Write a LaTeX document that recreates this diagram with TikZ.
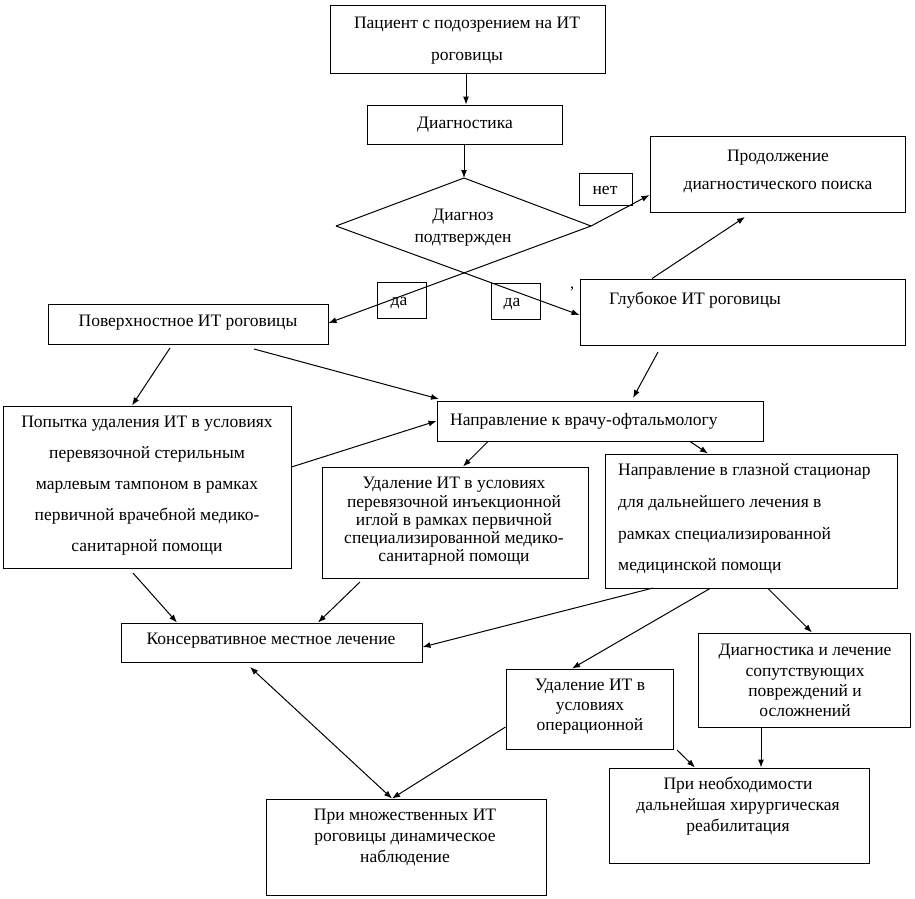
\documentclass[tikz,border=0pt]{standalone}
\usepackage{fontspec}
\setmainfont{Liberation Serif}
\usetikzlibrary{arrows.meta,calc}
\begin{document}
\begin{tikzpicture}[x=1pt,y=-1pt,
  box/.style={draw,line width=1pt,inner sep=0pt},
  txt/.style={inner sep=0pt,align=center,font=\fontsize{17.5}{21}\selectfont},
  arr/.style={line width=1pt,-{Latex[length=8pt,width=6pt]}},
  dblarr/.style={line width=1pt,{Latex[length=8pt,width=6pt]}-{Latex[length=8pt,width=6pt]}},
  ln/.style={line width=1pt}]
\path[use as bounding box] (0,0) rectangle (915,898);

% boxes
\node[box,minimum width=275,minimum height=68] (patient) at (467.5,39) {};
\node[txt,font=\fontsize{17.5}{32}\selectfont] (patientT) at (467,41) {Пациент с подозрением на ИТ\\роговицы};

\node[box,minimum width=195,minimum height=39] (diag) at (464.5,124.5) {};
\node[txt] (diagT) at (465,125) {Диагностика};

\coordinate (dN) at (464,178);
\coordinate (dW) at (336,226);
\coordinate (dE) at (591,226);
\node[txt,font=\fontsize{17.5}{22}\selectfont] (dT) at (463,228) {Диагноз\\подтвержден};

\node[box,minimum width=53,minimum height=32] (net) at (605.5,189) {};
\node[txt] (netT) at (605,190) {нет};

\node[box,minimum width=255,minimum height=76] (prod) at (777.5,174) {};
\node[txt,font=\fontsize{17.5}{28}\selectfont] (prodT) at (778,171) {Продолжение\\диагностического поиска};

\node[box,minimum width=49,minimum height=36] (da1) at (401.5,300) {};
\node[txt] (da1T) at (399,303) {да};
\node[box,minimum width=49,minimum height=36] (da2) at (515.5,301) {};
\node[txt] (da2T) at (512,304) {да};
\node[txt,font=\fontsize{16}{18}\selectfont] (tick) at (572,292) {’};

\node[box,minimum width=325,minimum height=66] (glub) at (742.5,312) {};
\node[txt] (glubT) at (695,300) {Глубокое ИТ роговицы};

\node[box,minimum width=280,minimum height=40] (pov) at (188,324) {};
\node[txt] (povT) at (188,323) {Поверхностное ИТ роговицы};

\node[box,minimum width=326,minimum height=40] (napr) at (600,421) {};
\node[txt,anchor=west] (naprT) at (450,421) {Направление к врачу-офтальмологу};

\node[box,minimum width=288,minimum height=162] (pop) at (147,487) {};
\node[txt,font=\fontsize{17.5}{31}\selectfont] (popT) at (147,486) {Попытка удаления ИТ в условиях\\перевязочной стерильным\\марлевым тампоном в рамках\\первичной врачебной медико-\\санитарной помощи};

\node[box,minimum width=266,minimum height=111] (udal) at (455,522.5) {};
\node[txt,font=\fontsize{17.5}{18.3}\selectfont] (udalT) at (454,521.5) {Удаление ИТ в условиях\\перевязочной инъекционной\\иглой в рамках первичной\\специализированной медико-\\санитарной помощи};

\node[box,minimum width=292,minimum height=134] (stac) at (751,521) {};
\node[txt,align=left,anchor=west,font=\fontsize{17.5}{31.7}\selectfont] (stacT) at (618,519) {Направление в глазной стационар\\для дальнейшего лечения в\\рамках специализированной\\медицинской помощи};

\node[box,minimum width=301,minimum height=39] (kons) at (271.5,642.5) {};
\node[txt] (konsT) at (271,641) {Консервативное местное лечение};

\node[box,minimum width=167,minimum height=80] (oper) at (589.5,709) {};
\node[txt,font=\fontsize{17.5}{20}\selectfont] (operT) at (590,707) {Удаление ИТ в\\условиях\\операционной};

\node[box,minimum width=212,minimum height=94] (dl) at (804,680) {};
\node[txt,font=\fontsize{17.5}{20.3}\selectfont] (dlT) at (805,680.5) {Диагностика и лечение\\сопутствующих\\повреждений и\\осложнений};

\node[box,minimum width=280,minimum height=96] (mn) at (406,847) {};
\node[txt,font=\fontsize{17.5}{20.7}\selectfont] (mnT) at (405,837.5) {При множественных ИТ\\роговицы динамическое\\наблюдение};

\node[box,minimum width=260,minimum height=95] (neo) at (739,815.5) {};
\node[txt,font=\fontsize{17.5}{21}\selectfont] (neoT) at (738,806) {При необходимости\\дальнейшая хирургическая\\реабилитация};

% diamond (upper edges; the lower edges run on as the "да" arrows)
\draw[ln] (dW) -- (dN) -- (dE);

% connectors
\draw[arr] (patient.south -| 466,0) -- (diag.north -| 466,0);
\draw[arr] (diag.south -| dN) -- (dN);
\draw[arr] (dE) -- (prod.west |- 0,195);
\draw[arr] (dE) -- (pov.east |- 0,323);
\draw[arr] (dW) -- (glub.west |- 0,315);
\draw[arr] (glub.north -| 652,0) -- (745,217);
\draw[arr] (170,348) -- (pop.north -| 132,0);
\draw[arr] (254,349) -- (439,399);
\draw[arr] (658,352) -- (633,398);
\draw[arr] (pop.east |- 0,467) -- (napr.west |- 0,421);
\draw[arr] (napr.south -| 488,0) -- (udal.north -| 463,0);
\draw[arr] (napr.south -| 690,0) -- (stac.north -| 708,0);
\draw[arr] (133,573) -- (kons.north -| 177,0);
\draw[arr] (360,582) -- (kons.north -| 318,0);
\draw[arr] (653,588) -- (kons.east |- 0,647);
\draw[arr] (stac.south -| 710,0) -- (oper.north -| 572,0);
\draw[arr] (stac.south -| 768,0) -- (dl.north -| 812,0);
\draw[dblarr] (250,667) -- (mn.north -| 392,0);
\draw[arr] (oper.west |- 0,727) -- (mn.north -| 392,0);
\draw[arr] (677,750) -- (neo.north -| 695,0);
\draw[arr] (dl.south -| 761,0) -- (neo.north -| 761,0);
\end{tikzpicture}
\end{document}
